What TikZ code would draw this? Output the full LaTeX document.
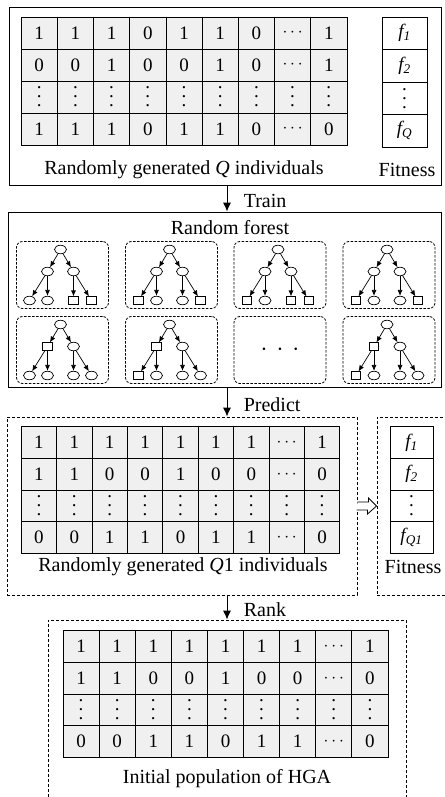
\documentclass[tikz,border=0pt]{standalone}
\usepackage{fontspec}
\setmainfont{Liberation Serif}
\usetikzlibrary{shapes.geometric,arrows.meta,matrix,calc}

\definecolor{cellgray}{RGB}{240,240,240}

% three stacked dots for the matrix cells
\newcommand{\vdotted}{\vbox{\baselineskip=9pt\lineskiplimit=0pt\hbox{.}\hbox{.}\hbox{.}}}

% one decision tree: name, centre x, centre y, two inner shapes, four leaf shapes
\newcommand{\rftree}[9]{%
    \node [treebox] (#1) at (#2,#3) {};
    \node [oval] (#1r) at (#2-2,#3+25.5) {};
    \node [#4] (#1a) at (#2-15,#3+3.5) {};
    \node [#5] (#1b) at (#2+11,#3+3.5) {};
    \node [#6] (#1c) at (#2-33,#3-25.5) {};
    \node [#7] (#1d) at (#2-15,#3-25.5) {};
    \node [#8] (#1e) at (#2+11,#3-25.5) {};
    \node [#9] (#1f) at (#2+29,#3-25.5) {};
    \draw [branch] (#1r) -- (#1a);
    \draw [branch] (#1r) -- (#1b);
    \draw [branch] (#1a) -- (#1c);
    \draw [branch] (#1a) -- (#1d);
    \draw [branch] (#1b) -- (#1e);
    \draw [branch] (#1b) -- (#1f);
}

\begin{document}
\begin{tikzpicture}[x=1pt, y=1pt,
                    font=\fontsize{20}{24}\selectfont,
                    solidbox/.style={draw, line width=0.9pt, inner sep=0pt},
                    dashbox/.style={draw, line width=0.9pt, dash pattern=on 3pt off 2pt, inner sep=0pt},
                    cell/.style={draw, line width=0.8pt, fill=cellgray, anchor=center, minimum width=36.2pt,
                                 minimum height=32pt, inner sep=0pt, font=\fontsize{19}{21}\selectfont},
                    fitcell/.style={cell, fill=white},
                    bits/.style={matrix of nodes, nodes={cell}, column sep=-0.8pt, row sep=-0.8pt, inner sep=0pt},
                    fits/.style={matrix of nodes, nodes={fitcell}, row sep=-0.8pt, inner sep=0pt},
                    treebox/.style={draw, line width=0.8pt, dash pattern=on 2.5pt off 1.5pt, rounded corners=6pt,
                                    minimum width=92pt, minimum height=67pt, inner sep=0pt},
                    oval/.style={draw, ellipse, line width=0.7pt, minimum width=12pt, minimum height=8.5pt, inner sep=0pt},
                    sq/.style={draw, rectangle, line width=0.7pt, minimum width=9.5pt, minimum height=7.5pt, inner sep=0pt},
                    branch/.style={line width=0.7pt, -{Latex[length=6pt,width=5pt]}},
                    flow/.style={line width=0.9pt, -{Latex[length=9pt,width=8pt]}},
                    hollow/.style={draw, line width=0.8pt, fill=white}]
    \useasboundingbox (0,0) rectangle (444,-797);

    % Place nodes
    \node [solidbox, minimum width=432pt, minimum height=178pt] (pop) at (225,-96) {};
    \matrix [bits] (popbits) at (184,-81) {
        1 & 1 & 1 & 0 & 1 & 1 & 0 & $\cdots$ & 1 \\
        0 & 0 & 1 & 0 & 0 & 1 & 0 & $\cdots$ & 1 \\
        \vdotted & \vdotted & \vdotted & \vdotted & \vdotted & \vdotted & \vdotted & \vdotted & \vdotted \\
        1 & 1 & 1 & 0 & 1 & 1 & 0 & $\cdots$ & 0 \\
    };
    \matrix [fits, nodes={minimum width=45pt, minimum height=32.5pt}] (popfit) at (404.5,-82) {
        {\itshape f\textsubscript{1}} \\
        {\itshape f\textsubscript{2}} \\
        \vdotted \\
        {\itshape f\textsubscript{Q}} \\
    };
    \node (poplabel) at (184,-170) {Randomly generated \textit{Q} individuals};
    \node (popfitlabel) at (407,-170) {Fitness};

    \node [solidbox, minimum width=433pt, minimum height=175pt] (forest) at (224.5,-299.5) {};
    \node (forestlabel) at (230,-228) {Random forest};
    \rftree{t1}{62.5}{-275}{oval}{oval}{oval}{oval}{sq}{sq}
    \rftree{t2}{171.5}{-275}{oval}{oval}{sq}{oval}{oval}{sq}
    \rftree{t3}{280}{-275}{oval}{oval}{sq}{oval}{sq}{sq}
    \rftree{t4}{389}{-275}{oval}{oval}{sq}{oval}{oval}{sq}
    \rftree{t5}{62.5}{-350}{sq}{oval}{oval}{oval}{oval}{oval}
    \rftree{t6}{171.5}{-350}{sq}{oval}{sq}{oval}{oval}{oval}
    \node [treebox] (t7) at (280,-350) {\fontsize{40}{40}\selectfont$\cdot$\hspace{9pt}$\cdot$\hspace{9pt}$\cdot$};
    \rftree{t8}{389}{-350}{sq}{oval}{sq}{oval}{oval}{oval}

    \node [dashbox, minimum width=350pt, minimum height=178pt] (pred) at (182,-506) {};
    \matrix [bits, nodes={minimum width=35.4pt, minimum height=31.6pt}] (predbits) at (180.5,-490) {
        1 & 1 & 1 & 1 & 1 & 1 & 1 & $\cdots$ & 1 \\
        1 & 1 & 0 & 0 & 1 & 0 & 0 & $\cdots$ & 0 \\
        \vdotted & \vdotted & \vdotted & \vdotted & \vdotted & \vdotted & \vdotted & \vdotted & \vdotted \\
        0 & 0 & 1 & 1 & 0 & 1 & 1 & $\cdots$ & 0 \\
    };
    \node (predlabel) at (183,-567) {Randomly generated \textit{Q}1 individuals};

    \node [dashbox, minimum width=69pt, minimum height=178pt] (fit) at (411.5,-506) {};
    \matrix [fits, nodes={minimum width=43pt, minimum height=31.6pt}] (predfit) at (411.5,-490) {
        {\itshape f\textsubscript{1}} \\
        {\itshape f\textsubscript{2}} \\
        \vdotted \\
        {\itshape f\textsubscript{Q1}} \\
    };
    \node (fitlabel) at (413,-567) {Fitness};

    \node [dashbox, minimum width=358pt, minimum height=200pt] (init) at (227,-720) {};
    \matrix [bits, nodes={minimum width=36.1pt, minimum height=31.6pt}] (initbits) at (225.5,-694) {
        1 & 1 & 1 & 1 & 1 & 1 & 1 & $\cdots$ & 1 \\
        1 & 1 & 0 & 0 & 1 & 0 & 0 & $\cdots$ & 0 \\
        \vdotted & \vdotted & \vdotted & \vdotted & \vdotted & \vdotted & \vdotted & \vdotted & \vdotted \\
        0 & 0 & 1 & 1 & 0 & 1 & 1 & $\cdots$ & 0 \\
    };
    \node (initlabel) at (227,-779) {Initial population of HGA};

    % Draw edges
    \coordinate (ax) at (227,0);
    \draw [flow] (pop.south -| ax) -- node[right=13pt, pos=.6] {Train} (forest.north -| ax);
    \draw [flow] (forest.south -| ax) -- node[right=13pt, pos=.6] {Predict} (pred.north -| ax);
    \draw [flow] (pred.south -| ax) -- node[right=13pt, pos=.6] {Rank} (init.north -| ax);
    \draw [hollow] ($(pred.east)+(0,4)$) -- ++(11,0) -- ++(0,4) -- (fit.west) -- ++(-9,-8) -- ++(0,4) -- ++(-11,0);

\end{tikzpicture}
\end{document}
